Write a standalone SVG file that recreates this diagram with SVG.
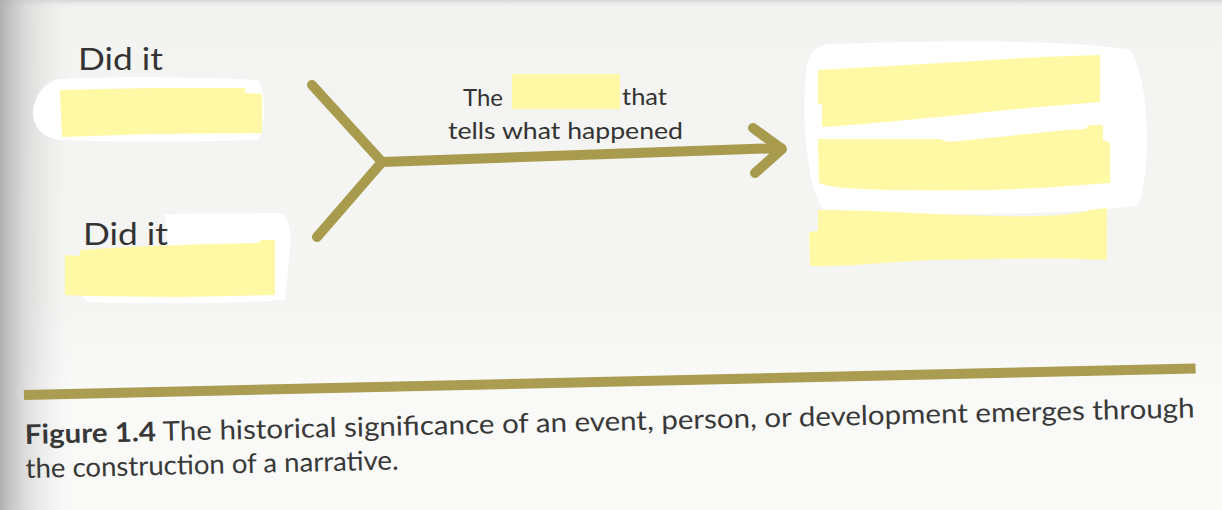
<svg xmlns="http://www.w3.org/2000/svg" width="1222" height="510" viewBox="0 0 1222 510">
  <defs>
    <linearGradient id="edge" x1="0" y1="0" x2="1" y2="0">
      <stop offset="0" stop-color="#a9a9a9" stop-opacity="0.9"/>
      <stop offset="0.35" stop-color="#c8c8c8" stop-opacity="0.6"/>
      <stop offset="1" stop-color="#e6e6e6" stop-opacity="0"/>
    </linearGradient>
    <linearGradient id="top" x1="0" y1="0" x2="0" y2="1">
      <stop offset="0" stop-color="#d0d0d0" stop-opacity="0.8"/>
      <stop offset="1" stop-color="#e8e8e8" stop-opacity="0"/>
    </linearGradient>
    <linearGradient id="page" x1="0" y1="0" x2="0" y2="1">
      <stop offset="0" stop-color="#f3f3f1"/>
      <stop offset="0.6" stop-color="#f5f5f3"/>
      <stop offset="0.75" stop-color="#f9f9f8"/>
      <stop offset="1" stop-color="#f9f9f8"/>
    </linearGradient>
  </defs>
  <style>
    .lbl { font-family: Lato, "Noto Sans", "Liberation Sans", sans-serif; fill: #333333; }
    .hl { fill: #fff9a6; }
    .wipe { fill: #ffffff; }
    .gold { fill: none; stroke: #a99b4e; stroke-width: 10; stroke-linecap: round; stroke-linejoin: round; }
    .cap { font-family: Lato, "Noto Sans", "Liberation Sans", sans-serif; fill: #383838; font-size: 27px; }
  </style>

  <!-- page background -->
  <rect x="0" y="0" width="1222" height="510" fill="url(#page)"/>
  <rect x="0" y="0" width="1222" height="8" fill="url(#top)"/>
  <rect x="0" y="0" width="70" height="510" fill="url(#edge)"/>

  <!-- node: Did it (top) -->
  <g id="node-did-it-top">
    <path class="wipe" d="M60,79 C120,76 200,77 258,80 C266,90 266,130 258,140 C200,142 120,142 60,140 C38,138 30,120 34,105 C38,90 48,81 60,79 Z"/>
    <path class="hl" d="M60,90 L150,88 L245,88 L245,93 L262,94 L262,133 L150,134 L62,137 Z"/>
    <text class="lbl" x="78" y="70" font-size="31" textLength="85" lengthAdjust="spacingAndGlyphs">Did it</text>
  </g>

  <!-- node: Did it (bottom) -->
  <g id="node-did-it-bottom">
    <path class="wipe" d="M165,214 L280,213 C290,216 292,240 290,250 L285,300 C220,304 140,304 90,302 C76,298 74,270 80,258 L168,246 Z"/>
    <path class="hl" d="M65,255 L80,256 L80,250 C140,246 200,244 257,243 L262,240 L275,240 L275,295 L180,297 L85,296 L65,295 Z"/>
    <text class="lbl" x="83" y="245" font-size="31" textLength="85" lengthAdjust="spacingAndGlyphs">Did it</text>
  </g>

  <!-- node: result (right) -->
  <g id="node-result">
    <path class="wipe" d="M830,44 C950,40 1080,40 1130,50 C1150,80 1152,170 1138,205 C1100,214 960,215 830,214 C805,205 800,100 808,60 C812,50 820,45 830,44 Z"/>
    <path class="hl" d="M818,70 L890,66 C950,63 1010,58 1070,56 L1100,55 L1100,102 L1040,107 C980,112 900,122 822,127 L822,104 L818,104 Z"/>
    <path class="hl" d="M818,139 L940,139 L948,142 C1010,136 1060,130 1085,129 L1090,125 L1103,125 L1103,140 L1110,143 L1110,183 L1040,188 C980,191 900,191 860,189 C840,188 825,186 819,183 Z"/>
    <path class="hl" d="M818,210 C880,210 940,215 1000,216 C1050,217 1080,214 1090,210 L1107,208 L1107,260 L1080,259 C1040,258 980,259 930,260 C880,263 840,267 810,266 L809,232 L818,231 Z"/>
  </g>

  <!-- connectors -->
  <g id="connectors">
    <path class="gold" d="M312,85 L382,162"/>
    <path class="gold" d="M317,237 L382,162"/>
    <path class="gold" d="M382,162 L781,148"/>
    <path class="gold" d="M753,128 L782,149 L755,173"/>
    <g id="connector-label">
      <text class="lbl" x="463" y="106" font-size="23" textLength="40" lengthAdjust="spacingAndGlyphs">The</text>
      <rect class="hl" x="512" y="74" width="108" height="35"/>
      <text class="lbl" x="622" y="105" font-size="23" textLength="45" lengthAdjust="spacingAndGlyphs">that</text>
      <text class="lbl" x="448" y="139" font-size="23" textLength="235" lengthAdjust="spacingAndGlyphs">tells what happened</text>
    </g>
  </g>

  <!-- rule and caption -->
  <g id="caption" transform="rotate(-1.3 25 444)">
    <rect x="25" y="390" width="1172" height="10" fill="#aa9c50"/>
    <text class="cap" x="25" y="444" textLength="1170" lengthAdjust="spacingAndGlyphs"><tspan font-weight="bold">Figure 1.4</tspan> The historical significance of an event, person, or development emerges through</text>
    <text class="cap" x="25" y="478" textLength="373" lengthAdjust="spacingAndGlyphs">the construction of a narrative.</text>
  </g>
</svg>
